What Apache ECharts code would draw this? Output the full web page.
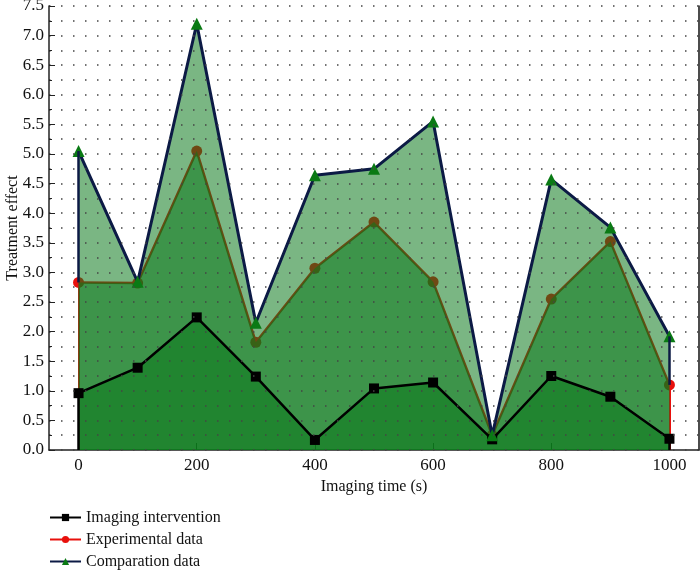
<!DOCTYPE html>
<html>
<head>
<meta charset="utf-8">
<script src="https://cdn.jsdelivr.net/npm/echarts@6/dist/echarts.min.js"></script>
<style>
    html,body{margin:0;padding:0;background:#fff;}
    #J_Main{width:700px;height:570px;}
</style>
</head>
<body>
<div id="J_Main"></div>
<script>
// imaging time (s)
var times = [0, 100, 200, 300, 400, 500, 600, 700, 800, 900, 1000];
var imagingData = [0.96, 1.39, 2.24, 1.24, 0.17, 1.04, 1.14, 0.18, 1.25, 0.90, 0.19];
var experimentalData = [2.83, 2.82, 5.05, 1.82, 3.07, 3.85, 2.84, 0.25, 2.55, 3.52, 1.10];
var comparationData = [5.05, 2.84, 7.20, 2.15, 4.64, 4.75, 5.55, 0.25, 4.57, 3.76, 1.92];
var xTicks = [0, 200, 400, 600, 800, 1000];

var FONT = "Liberation Serif";
var FILL = "rgba(10,120,25,0.54)";

function pairs(vals){
    return vals.map(function(v,i){return [times[i], v]});
}
// vertical edge of a series at first and last time
function edges(lo, hi){
    var last = times.length - 1;
    return [
        [{coord:[times[0], lo[0]]}, {coord:[times[0], hi[0]]}],
        [{coord:[times[last], lo[last]]}, {coord:[times[last], hi[last]]}]
    ];
}
var zeros = times.map(function(){return 0});

var myChart = echarts.init(document.getElementById("J_Main"));
var option = {
    animation: false,
    grid: {left: 49, right: 1, top: 6, bottom: 120, containLabel: false, outerBoundsMode: "none"},
    legend: {
        orient: "vertical",
        left: 49,
        top: 509,
        height: 61,
        padding: 0,
        itemWidth: 31,
        itemHeight: 9,
        itemGap: 5,
        data: ["Imaging intervention", "Experimental data", "Comparation data"],
        textStyle: {fontFamily: FONT, fontSize: 16, lineHeight: 17, color: "#111"}
    },
    xAxis: {
        type: "value",
        min: -50,
        max: 1050,
        name: "Imaging time (s)",
        nameLocation: "middle",
        nameGap: 29,
        nameMoveOverlap: false,
        nameTextStyle: {fontFamily: FONT, fontSize: 16, color: "#111"},
        axisLine: {onZero: false, lineStyle: {color: "#222", width: 1.5}},
        axisTick: {inside: true, length: 7, customValues: xTicks, lineStyle: {color: "#222"}},
        axisLabel: {customValues: xTicks, fontFamily: FONT, fontSize: 17, color: "#111", margin: 7,
            formatter: function(v){return String(v)}},
        splitLine: {show: false}
    },
    yAxis: [{
        type: "value",
        min: 0,
        max: 7.5,
        interval: 0.5,
        z: 6,
        name: "Treatment effect",
        nameLocation: "middle",
        nameGap: 28,
        nameMoveOverlap: false,
        nameTextStyle: {fontFamily: FONT, fontSize: 16, color: "#111"},
        axisLine: {show: true, onZero: false, lineStyle: {color: "#222", width: 1.5}},
        axisTick: {inside: true, length: 6, lineStyle: {color: "#222"}},
        minorTick: {show: true, splitNumber: 2, length: 3, lineStyle: {color: "#222"}},
        axisLabel: {fontFamily: FONT, fontSize: 17, color: "#111", margin: 5,
            formatter: function(v){return v.toFixed(1)}},
        splitLine: {show: true, lineStyle: {color: "#444", width: 1.5, type: [1.5, 10.5]}},
        minorSplitLine: {show: true, lineStyle: {color: "#444", width: 1.5, type: [1.5, 10.5]}}
    }, {
        type: "value",
        position: "right",
        min: 0,
        max: 7.5,
        interval: 0.5,
        axisLine: {show: true, onZero: false, lineStyle: {color: "#111", width: 1.5}},
        axisTick: {show: false},
        axisLabel: {show: false},
        splitLine: {show: false}
    }],
    series: [{
        name: "Experimental data",
        type: "line",
        z: 1,
        data: pairs(experimentalData),
        symbol: "circle",
        symbolSize: 11,
        itemStyle: {color: "#e8100c"},
        lineStyle: {color: "#e8100c", width: 2.5},
        markLine: {
            z: 1,
            silent: true, symbol: ["none", "none"], label: {show: false},
            lineStyle: {color: "#e8100c", width: 2, type: "solid"},
            data: edges(zeros, experimentalData)
        }
    }, {
        name: "fillComparation",
        type: "line",
        z: 2,
        silent: true,
        data: pairs(comparationData),
        symbol: "none",
        lineStyle: {width: 0},
        areaStyle: {color: FILL, opacity: 1}
    }, {
        name: "fillExperimental",
        type: "line",
        z: 2,
        silent: true,
        data: pairs(experimentalData),
        symbol: "none",
        lineStyle: {width: 0},
        areaStyle: {color: FILL, opacity: 1}
    }, {
        name: "fillImaging",
        type: "line",
        z: 2,
        silent: true,
        data: pairs(imagingData),
        symbol: "none",
        lineStyle: {width: 0},
        areaStyle: {color: FILL, opacity: 1}
    }, {
        name: "Imaging intervention",
        type: "line",
        z: 4,
        data: pairs(imagingData),
        symbol: "rect",
        symbolSize: 10,
        itemStyle: {color: "#000"},
        lineStyle: {color: "#000", width: 2.5},
        markLine: {
            silent: true, symbol: ["none", "none"], label: {show: false},
            lineStyle: {color: "#000", width: 2.5, type: "solid"},
            data: edges(zeros, imagingData)
        }
    }, {
        name: "Comparation data",
        type: "line",
        z: 4,
        data: pairs(comparationData),
        symbol: "triangle",
        symbolSize: 12,
        itemStyle: {color: "#0a7a14"},
        lineStyle: {color: "#0c1a45", width: 3},
        markLine: {
            silent: true, symbol: ["none", "none"], label: {show: false},
            lineStyle: {color: "#0c1a45", width: 2.5, type: "solid"},
            data: edges(experimentalData, comparationData)
        }
    }]
};
myChart.setOption(option);
</script>
</body>
</html>
